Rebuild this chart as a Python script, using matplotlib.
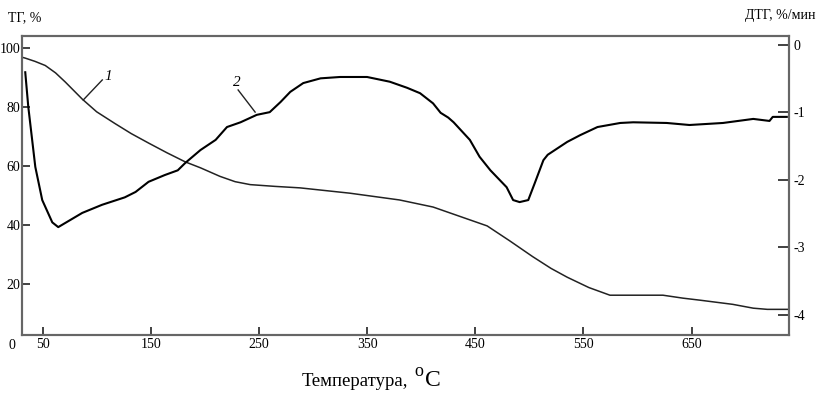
import matplotlib
matplotlib.use("Agg")
import matplotlib.pyplot as plt

plt.rcParams['font.family'] = ['Liberation Serif', 'DejaVu Serif']

# curve 1: TG, %
t1 = [31, 34, 43, 52.5, 62, 71, 86.7, 100, 117, 132, 148, 165, 182, 196, 214, 228, 242, 265, 288, 334, 380, 411,
      436, 461, 482, 503, 520, 535, 555, 574.5, 600, 623.5, 642, 658, 688, 707, 720, 740]
tg = [96.8, 96.5, 95.4, 94.0, 91.5, 88.4, 82.6, 78.3, 74.3, 70.9, 67.7, 64.4, 61.3, 59.3, 56.4, 54.6, 53.6, 53.0, 52.5, 50.7, 48.4, 46.0,
      42.8, 39.6, 34.5, 29.2, 25.2, 22.2, 18.7, 16.1, 16.1, 16.1, 15.1, 14.4, 13.0, 11.7, 11.3, 11.3]

# curve 2: DTG, %/min
t2 = [34, 36.8, 43.3, 49.7, 59, 64.5, 86.7, 105, 126, 136, 148, 163, 175, 182, 196,
      210, 220.5, 233, 248, 260, 270, 279, 291, 307, 325, 350, 371, 387, 399, 411,
      418, 425, 430, 445, 454, 464, 479, 485, 491, 499, 505, 513, 517, 535, 547,
      563, 584, 596, 627, 648, 679, 707, 722, 725, 738]
dtg = [-0.41, -0.92, -1.81, -2.30, -2.63, -2.70, -2.49, -2.37, -2.26, -2.18, -2.03, -1.93, -1.86, -1.75, -1.56,
       -1.41, -1.22, -1.15, -1.04, -1.00, -0.85, -0.70, -0.57, -0.50, -0.48, -0.48, -0.55, -0.64, -0.72, -0.87,
       -1.01, -1.08, -1.15, -1.41, -1.66, -1.86, -2.11, -2.30, -2.33, -2.30, -2.05, -1.71, -1.63, -1.44, -1.34,
       -1.22, -1.16, -1.15, -1.16, -1.19, -1.16, -1.10, -1.13, -1.07, -1.07]

x_ticks = [50, 150, 250, 350, 450, 550, 650]
left_ticks = [20, 40, 60, 80, 100]
right_ticks = [0, -1, -2, -3, -4]
right_labels = ['0', '-1', '-2', '-3', '-4']

fig = plt.figure(figsize=(8.18, 3.97), dpi=100)
ax = fig.add_axes([0.0269, 0.1554, 0.9376, 0.7539])
ax2 = ax.twinx()

ax.plot(t1, tg, color='#222222', lw=1.1)
ax2.plot(t2, dtg, color='black', lw=1.5)

ax.set_xlim(31, 740)
ax.set_ylim(2.5, 104)
ax2.set_ylim(-4.30, 0.126)

ax.set_xticks(x_ticks)
ax.set_yticks(left_ticks)
ax2.set_yticks(right_ticks)
ax2.set_yticklabels(right_labels)

for a in (ax, ax2):
    for s in a.spines.values():
        s.set_color('#666666')
        s.set_linewidth(1.5)
ax.tick_params(axis='both', direction='in', length=6, width=1.3, color='#333333',
               labelsize=10, pad=2)
ax.tick_params(axis='y', pad=1)
ax2.tick_params(axis='y', direction='in', length=8, width=1.3, color='#333333',
                labelsize=10, pad=3)

# curve labels with leader lines
ax.text(110.7, 90.1, '1', fontsize=11, style='italic', ha='center', va='center')
ax.plot([87.6, 105.2], [82.3, 89.1], color='#222222', lw=1.0)
ax.text(229.9, 88.4, '2', fontsize=11, style='italic', ha='center', va='center')
ax.plot([230.8, 246.5], [85.7, 78.2], color='#222222', lw=1.0)

fig.text(0.010, 0.955, 'ТГ, %', fontsize=10, ha='left', va='center')
fig.text(0.997, 0.960, 'ДТГ, %/мин', fontsize=10, ha='right', va='center')
fig.text(0.015, 0.13, '0', fontsize=10, ha='center', va='center')

fig.text(0.369, 0.028, 'Температура,', fontsize=13.5, ha='left', va='baseline')
fig.text(0.507, 0.052, 'o', fontsize=13, ha='left', va='baseline')
fig.text(0.519, 0.028, 'C', fontsize=17, ha='left', va='baseline')

fig.savefig('out.png', dpi=100)
